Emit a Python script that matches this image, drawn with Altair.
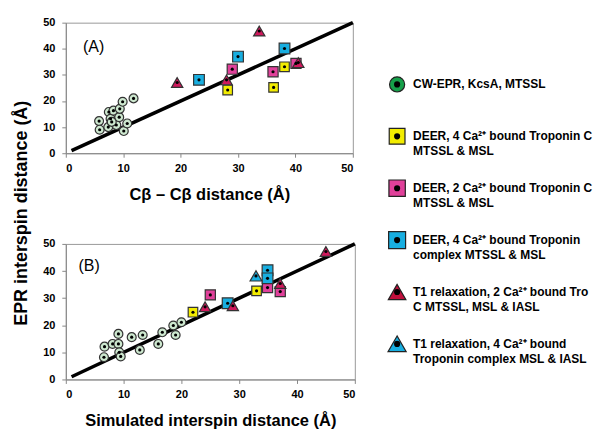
import altair as alt
import pandas as pd

# ---------------- data ----------------
series_keys = ["cw", "deer4tnc", "deer2tnc", "deer4cplx", "t1_2tnc", "t1_4cplx"]
series_rank = [0, 1, 2, 3, 4, 5]
series_labels = [
    "CW-EPR, KcsA, MTSSL",
    "DEER, 4 Ca²⁺ bound Troponin C\nMTSSL & MSL",
    "DEER, 2 Ca²⁺ bound Troponin C\nMTSSL & MSL",
    "DEER, 4 Ca²⁺ bound Troponin\ncomplex MTSSL & MSL",
    "T1 relaxation, 2 Ca²⁺ bound Troponin\nC MTSSL, MSL & IASL",
    "T1 relaxation, 4 Ca²⁺ bound\nTroponin complex MSL & IASL",
]

# Panel A : Cbeta-Cbeta distance vs EPR distance
a_cw_x = [5.8, 5.9, 7.4, 7.5, 7.8, 8.3, 8.8, 9.3, 9.4, 9.9, 10.1, 10.7, 11.8, 8.0]
a_cw_y = [12.3, 9.0, 10.0, 15.8, 13.2, 16.3, 10.8, 13.8, 17.0, 19.7, 8.5, 11.4, 21.0, 12.0]
a_deer4tnc_x = [28.2, 36.2, 38.1]
a_deer4tnc_y = [24.2, 25.2, 33.1]
a_deer2tnc_x = [29.0, 36.1, 40.1]
a_deer2tnc_y = [32.2, 31.2, 34.4]
a_deer4cplx_x = [23.2, 30.0, 38.1]
a_deer4cplx_y = [28.1, 37.0, 40.1]
a_t1_2tnc_x = [19.4, 28.0, 33.7, 40.5]
a_t1_2tnc_y = [27.1, 28.1, 46.8, 34.7]

# Panel B : simulated distance vs EPR distance
b_cw_x = [6.7, 6.6, 8.1, 9.1, 9.1, 9.25, 9.5, 11.4, 13.3, 12.8, 16.0, 16.7, 18.6, 19.0, 20.0]
b_cw_y = [12.1, 8.2, 13.1, 16.8, 13.1, 10.0, 8.5, 15.6, 16.4, 10.9, 13.1, 17.4, 19.9, 16.4, 21.1]
b_deer4tnc_x = [22.0, 33.0]
b_deer4tnc_y = [24.8, 32.7]
b_deer2tnc_x = [25.0, 34.9, 37.1]
b_deer2tnc_y = [31.2, 33.9, 32.4]
b_deer4cplx_x = [28.0, 34.9, 34.9]
b_deer4cplx_y = [28.1, 40.3, 37.3]
b_t1_2tnc_x = [24.1, 28.9, 37.1, 45.0]
b_t1_2tnc_y = [26.8, 27.2, 35.4, 47.2]
b_t1_4cplx_x = [32.9]
b_t1_4cplx_y = [38.2]

diag_x = [1, 50]
axis_ticks = [0, 10, 20, 30, 40, 50]

# ---------------- styles ----------------
FONT = "Liberation Sans"
fill_panel = ["#cde8cf", "#f2ec00", "#e0409a", "#18aee0", "#d0185c", "#18aee0"]
fill_legend = ["#16a04a", "#f2ec00", "#e0409a", "#18aee0", "#c0103c", "#18aee0"]
shapes = ["circle", "square", "square", "square", "triangle-up", "triangle-up"]
size_panel = [80, 140, 140, 140, 130, 130]
size_legend = [230, 330, 330, 330, 520, 520]


def build(parts):
    rows = []
    for key, xs, ys in parts:
        for x, y in zip(xs, ys):
            rows.append({"series": key, "x": x, "y": y})
    return pd.DataFrame(rows)


df_a = build([
    ("cw", a_cw_x, a_cw_y),
    ("deer4tnc", a_deer4tnc_x, a_deer4tnc_y),
    ("deer2tnc", a_deer2tnc_x, a_deer2tnc_y),
    ("deer4cplx", a_deer4cplx_x, a_deer4cplx_y),
    ("t1_2tnc", a_t1_2tnc_x, a_t1_2tnc_y),
])
df_b = build([
    ("cw", b_cw_x, b_cw_y),
    ("deer4tnc", b_deer4tnc_x, b_deer4tnc_y),
    ("deer2tnc", b_deer2tnc_x, b_deer2tnc_y),
    ("deer4cplx", b_deer4cplx_x, b_deer4cplx_y),
    ("t1_2tnc", b_t1_2tnc_x, b_t1_2tnc_y),
    ("t1_4cplx", b_t1_4cplx_x, b_t1_4cplx_y),
])
df_diag = pd.DataFrame({"x": diag_x, "y": diag_x})


def panel(df, xtitle, tpad, tag, tag_x, tag_y, w, h):
    xs = alt.Scale(domain=[0, 50], nice=False)
    ys = alt.Scale(domain=[0, 50], nice=False)
    xax = alt.Axis(values=axis_ticks, title=xtitle, grid=False, titlePadding=tpad)
    yax = alt.Axis(values=axis_ticks, title=None, grid=False)
    line = alt.Chart(df_diag).mark_line(color="black", strokeWidth=3.5).encode(
        x=alt.X("x:Q", scale=xs, axis=xax), y=alt.Y("y:Q", scale=ys, axis=yax)
    )
    pts = alt.Chart(df).mark_point(filled=True, opacity=1, stroke="#333333", strokeWidth=1.2).encode(
        x=alt.X("x:Q", scale=xs, axis=xax),
        y=alt.Y("y:Q", scale=ys, axis=yax),
        shape=alt.Shape("series:N", scale=alt.Scale(domain=series_keys, range=shapes), legend=None),
        fill=alt.Fill("series:N", scale=alt.Scale(domain=series_keys, range=fill_panel), legend=None),
        size=alt.Size("series:N", scale=alt.Scale(domain=series_keys, range=size_panel), legend=None),
    )
    dots = alt.Chart(df).mark_circle(color="black", size=10, opacity=1).encode(
        x=alt.X("x:Q", scale=xs, axis=xax), y=alt.Y("y:Q", scale=ys, axis=yax)
    )
    lab = alt.Chart(pd.DataFrame({"x": [tag_x], "y": [tag_y], "t": [tag]})).mark_text(
        align="left", baseline="middle", font=FONT, fontSize=16, color="black"
    ).encode(x=alt.X("x:Q", scale=xs, axis=xax), y=alt.Y("y:Q", scale=ys, axis=yax), text="t:N")
    return alt.layer(line, pts, dots, lab).properties(width=w, height=h)


pa = panel(df_a, "Cβ – Cβ distance (Å)", 13, "(A)", 3.0, 40.5, 288, 131)
pb = panel(df_b, "Simulated interspin distance (Å)", 13, "(B)", 2.2, 42.0, 290, 136)

left = alt.vconcat(pa, pb, spacing=33).properties(
    title=alt.TitleParams(
        "EPR interspin distance (Å)", orient="left", anchor="middle",
        font=FONT, fontSize=18, fontWeight="bold", color="black", offset=11, dx=9,
    )
)

df_leg = pd.DataFrame({"series": series_keys, "rank": series_rank, "label": series_labels})
ly = alt.Y("rank:Q", scale=alt.Scale(domain=[-1.19, 6.3], reverse=True, nice=False, zero=False), axis=None)
lx = alt.XDatum(0.04, scale=alt.Scale(domain=[0, 1]), axis=None)
leg_pts = alt.Chart(df_leg).mark_point(filled=True, opacity=1, stroke="#222222", strokeWidth=1.2).encode(
    x=lx, y=ly,
    shape=alt.Shape("series:N", scale=alt.Scale(domain=series_keys, range=shapes), legend=None),
    fill=alt.Fill("series:N", scale=alt.Scale(domain=series_keys, range=fill_legend), legend=None),
    size=alt.Size("series:N", scale=alt.Scale(domain=series_keys, range=size_legend), legend=None),
)
leg_dots = alt.Chart(df_leg).mark_circle(color="black", size=38, opacity=1).encode(x=lx, y=ly)
leg_txt = alt.Chart(df_leg).mark_text(
    align="left", baseline="middle", dx=16, font=FONT, fontSize=12, fontWeight="bold",
    color="black", lineBreak="\n", lineHeight=15, limit=181, ellipsis="\u200b",
).encode(x=lx, y=ly, text="label:N")
legend = alt.layer(leg_pts, leg_dots, leg_txt).properties(
    width=186, height=390, view=alt.ViewBackground(stroke="transparent")
)

chart = alt.hconcat(left, legend, spacing=22).resolve_scale(
    fill="independent", size="independent", shape="independent"
).properties(
    padding={"left": 5, "top": 6, "right": 0, "bottom": 0}
).configure_view(stroke="#999999", strokeWidth=1).configure_axis(
    labelFont=FONT, labelFontSize=11, labelFontWeight="bold", labelColor="black",
    titleFont=FONT, titleFontSize=16.5, titleFontWeight="bold", titleColor="black",
    domainColor="#888888", tickColor="#888888", tickSize=4,
).configure_axisX(labelPadding=5).configure_axisY(labelPadding=7)

chart.save("out.html", embed_options={"renderer": "svg", "actions": False})
